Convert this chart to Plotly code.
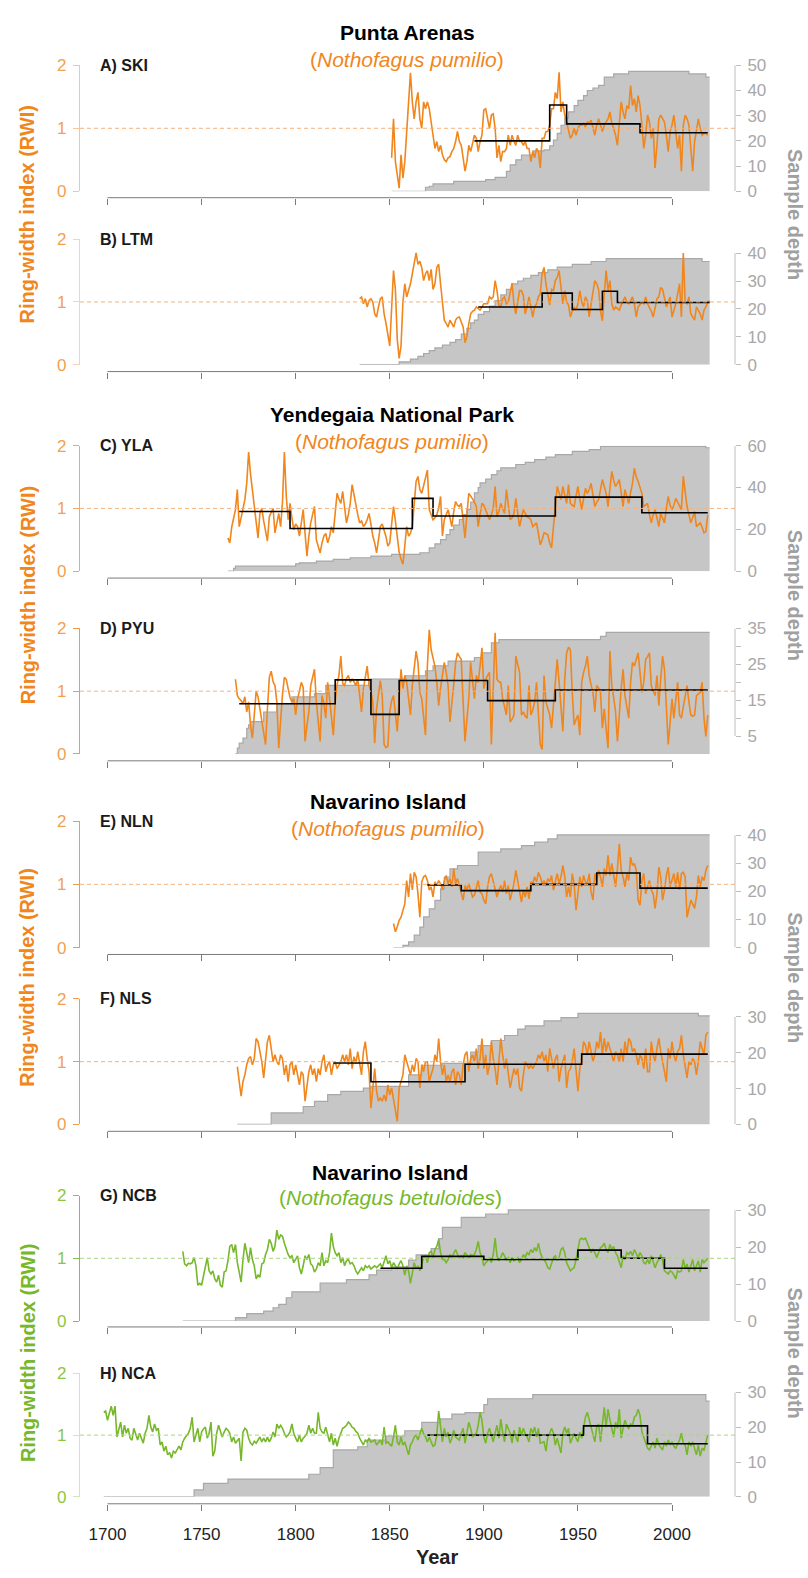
import plotly.graph_objects as go

# ============================ DATA ============================
# Ring-width index series (annual values, first year given by *_start)
rwi_A_start = 1851
rwi_A = [0.53,1.15,0.47,0.21,0.05,0.58,0.21,0.47,1.0,1.52,
         1.88,1.42,1.15,1.42,1.57,1.15,1.0,1.42,1.31,1.42,
         1.31,1.10,0.89,0.68,0.79,0.63,0.73,0.58,0.50,0.47,
         0.53,0.55,0.63,0.68,0.79,0.95,0.79,0.73,0.53,0.32,
         0.47,0.73,0.63,0.79,0.89,0.84,0.63,0.79,0.89,1.29,
         1.31,1.15,1.0,1.21,1.23,1.0,0.53,0.73,0.47,0.63,
         0.63,0.68,0.89,0.73,0.89,0.79,0.73,0.89,0.79,0.79,
         0.73,0.79,0.68,0.68,0.47,0.63,0.53,0.68,0.63,0.37,
         0.84,0.84,0.95,0.95,1.05,1.31,1.31,1.57,1.47,1.89,
         1.26,1.42,1.21,1.10,0.95,0.84,0.89,1.0,0.89,1.0,
         1.05,1.05,1.08,1.02,1.10,1.08,1.13,1.0,0.89,1.05,
         1.15,1.05,0.95,1.05,1.10,1.15,1.26,1.08,1.0,0.89,
         0.73,1.15,1.42,1.26,1.15,1.36,1.31,1.68,1.36,1.47,
         1.26,1.52,1.36,1.05,0.68,0.89,1.21,1.10,0.84,1.0,
         0.37,0.73,1.15,1.21,1.15,1.10,0.89,0.63,0.95,1.05,
         1.21,0.89,0.68,0.89,0.32,1.05,1.21,1.15,1.05,0.68,
         0.32,0.79,1.0,1.15,1.0,0.89,0.92,0.92,0.89]

rwi_B_start = 1834
rwi_B = [1.05,1.08,0.97,1.05,0.92,1.02,1.05,1.0,0.81,0.76,
         0.92,1.05,1.08,0.81,0.66,0.45,0.3,0.9,1.5,1.2,
         0.4,0.1,0.3,1.0,1.29,1.08,1.18,1.29,1.45,1.6,
         1.78,1.6,1.65,1.55,1.34,1.45,1.5,1.34,1.52,1.2,
         1.29,1.55,1.6,1.29,0.97,0.71,0.66,0.60,0.71,0.65,
         0.60,0.71,0.75,0.76,0.68,0.60,0.35,0.45,0.65,0.81,
         0.85,0.87,0.92,0.90,0.87,0.92,0.97,0.97,0.97,1.08,
         1.05,1.08,1.34,1.18,0.95,0.92,1.05,1.08,0.97,1.0,
         1.18,1.3,0.97,0.81,1.0,1.18,1.18,1.1,0.81,0.92,
         1.08,0.9,0.76,0.92,0.97,1.08,1.13,1.45,1.55,1.29,
         1.08,0.95,1.20,1.18,1.34,1.39,1.50,1.2,0.97,1.18,
         1.0,0.95,0.76,0.85,0.92,0.87,0.97,1.18,1.0,0.92,
         1.08,1.02,0.76,0.97,1.13,1.34,1.29,1.2,0.85,0.70,
         1.13,1.50,1.18,1.34,0.97,0.87,0.92,0.90,0.87,0.95,
         1.02,1.08,1.0,0.97,1.02,1.08,0.97,0.76,0.92,0.97,
         1.0,0.97,1.08,0.97,0.92,0.85,0.76,0.92,1.05,1.08,
         1.23,1.20,1.05,0.92,1.0,1.08,0.76,0.85,0.97,1.13,
         1.29,0.76,1.78,1.0,0.97,1.08,0.81,0.76,0.71,0.92,
         0.87,0.81,0.71,0.87,0.92,1.0,1.02]

rwi_C_start = 1764
rwi_C = [0.53,0.45,0.70,0.87,0.98,1.30,0.71,0.85,0.98,1.14,
         1.40,1.90,1.55,1.30,1.05,0.82,0.53,0.92,1.0,0.80,
         0.61,0.48,0.87,0.95,1.0,0.61,0.80,0.92,0.71,1.10,
         1.90,1.20,0.82,1.08,0.85,0.66,0.75,0.71,0.56,0.80,
         0.98,0.60,0.24,0.55,0.77,0.90,1.03,0.50,0.40,0.29,
         0.45,0.56,0.60,0.45,0.55,0.71,0.61,0.95,1.24,1.15,
         1.08,1.27,1.00,0.77,0.90,1.08,1.38,1.20,1.08,0.90,
         0.77,0.80,0.71,0.75,0.82,0.92,0.75,0.56,0.45,0.29,
         0.50,0.71,0.75,0.66,0.55,0.40,0.45,0.75,1.03,0.80,
         0.50,0.30,0.19,0.11,0.40,0.71,0.56,0.60,0.71,1.10,
         1.43,1.51,1.30,1.24,1.35,1.50,1.61,0.98,0.90,0.82,
         0.85,0.90,1.00,1.19,0.56,0.82,0.90,0.98,0.85,0.71,
         0.95,1.11,1.05,1.03,1.08,0.80,0.53,0.90,1.24,1.20,
         1.16,1.10,1.03,0.71,0.90,1.08,1.05,0.98,0.90,0.82,
         0.90,1.0,1.35,0.87,0.95,1.08,1.00,0.92,1.30,1.05,
         0.82,0.85,0.92,1.16,0.95,0.71,0.85,0.98,0.92,0.87,
         0.85,0.82,0.71,0.75,0.77,0.60,0.42,0.50,0.61,0.60,
         0.58,0.45,0.37,0.71,1.00,1.35,1.25,1.14,1.35,1.20,
         1.08,1.38,1.08,1.05,1.03,1.20,1.35,1.15,0.98,1.15,
         1.32,1.24,1.30,1.40,1.20,1.03,1.10,1.14,1.30,1.46,
         1.35,1.24,1.03,1.30,1.59,1.45,1.35,1.40,1.46,1.25,
         1.03,1.30,1.20,1.08,1.25,1.40,1.64,1.50,1.43,1.35,
         1.24,1.03,1.05,1.08,0.90,0.77,0.90,0.98,0.85,0.71,
         0.92,0.85,0.77,1.00,1.19,1.05,0.98,1.05,1.16,1.10,
         1.03,0.98,1.51,1.25,1.03,0.90,0.77,0.85,0.95,0.71,
         0.75,0.77,0.70,0.61,0.63,0.90]

rwi_D_start = 1768
rwi_D = [1.19,0.93,0.88,0.85,0.80,0.91,0.67,0.83,0.46,0.25,
         0.62,1.00,0.91,0.72,0.46,0.30,0.15,0.72,1.22,1.32,
         1.15,1.09,0.83,0.09,0.62,0.95,1.22,1.19,1.04,0.90,
         0.83,0.88,0.62,0.88,1.00,1.14,1.06,0.20,0.45,0.67,
         1.09,1.25,1.35,0.83,0.50,0.20,0.93,0.80,0.57,1.14,
         0.88,0.55,0.30,0.83,1.10,1.25,1.56,1.12,1.09,1.20,
         1.25,1.14,1.19,1.15,1.09,1.19,0.95,0.67,1.04,1.25,
         1.40,1.09,1.00,0.83,0.17,0.72,1.00,1.17,0.93,0.15,
         0.10,0.12,0.67,0.85,0.93,0.62,0.36,0.90,1.35,1.04,
         1.25,1.14,0.90,0.62,1.09,1.40,1.64,1.46,0.98,0.88,
         0.60,0.30,1.40,1.98,1.66,1.55,1.40,1.14,0.77,1.05,
         1.30,1.46,1.30,1.09,0.51,0.77,1.10,1.46,1.61,1.55,
         1.51,0.83,0.20,0.55,0.88,1.46,1.15,0.88,1.25,1.14,
         1.40,1.69,1.04,1.19,1.25,1.30,0.15,1.14,1.93,1.19,
         1.15,1.14,0.88,0.75,0.62,1.09,0.51,0.55,0.62,1.56,
         1.45,1.30,0.62,0.67,0.60,0.57,1.09,0.62,0.70,0.83,
         1.14,0.60,0.15,0.07,1.25,0.83,0.70,0.62,0.41,0.83,
         1.20,1.51,1.14,0.70,0.36,1.19,1.61,1.70,1.66,0.98,
         0.46,0.55,0.62,0.30,1.14,1.30,1.40,1.56,1.25,1.10,
         0.98,0.67,1.09,1.05,0.98,0.41,0.72,0.40,0.09,1.64,
         1.09,0.90,0.67,0.20,0.72,1.05,1.35,0.93,0.75,0.57,
         1.14,1.46,1.40,1.51,1.61,1.30,0.98,1.14,1.51,1.55,
         1.61,1.09,1.00,0.93,1.25,0.77,1.20,1.56,1.35,0.83,
         0.15,0.50,0.88,0.57,0.85,1.14,0.62,0.57,0.75,0.93,
         1.09,0.83,0.62,0.60,0.62,0.93,0.95,0.98,1.14,0.57,
         0.28,0.62]

rwi_E_start = 1852
rwi_E = [0.38,0.25,0.33,0.43,0.48,0.59,0.69,1.06,0.80,
         1.17,0.91,1.19,1.12,0.85,0.48,1.04,1.12,1.14,
         1.06,0.91,0.96,0.80,1.04,0.98,1.06,1.01,0.91,
         1.06,1.14,1.01,1.09,0.96,1.25,1.01,1.09,0.98,
         0.88,0.75,0.98,0.91,1.01,0.88,0.80,0.83,0.96,
         1.06,0.88,0.85,0.75,0.69,0.96,1.12,1.17,1.06,
         0.91,0.80,0.91,0.98,0.88,1.06,0.85,0.98,0.75,
         0.88,1.01,1.22,1.04,0.88,0.72,0.91,0.80,0.96,
         0.77,1.04,1.01,1.12,1.04,1.19,1.12,1.01,1.06,
         0.98,1.09,1.04,1.14,0.91,1.06,1.17,1.01,1.12,
         1.30,1.12,0.80,0.96,0.80,1.17,1.01,0.59,0.85,
         1.12,0.96,1.14,1.04,1.01,1.17,0.88,0.75,1.17,
         1.04,1.22,1.12,0.96,1.25,1.14,1.46,1.14,1.33,
         1.12,0.96,1.25,1.64,1.22,1.12,0.96,1.17,1.06,
         1.43,1.30,1.33,1.22,0.75,0.67,1.06,1.17,0.85,
         0.96,1.06,0.91,0.85,0.62,0.85,1.27,1.12,0.75,
         0.91,1.14,1.27,0.96,1.06,1.17,0.96,1.19,0.91,
         1.17,1.19,1.12,0.48,0.64,0.75,0.69,0.62,0.80,1.14,
         0.96,1.12,1.06,1.22,1.30]

rwi_F_start = 1769
rwi_F = [0.92,0.63,0.45,0.68,0.79,0.95,1.05,1.08,0.95,
         1.05,1.37,1.32,1.16,1.0,0.74,1.0,1.32,1.42,
         1.21,1.0,1.11,1.0,0.95,1.11,1.05,0.79,0.95,
         0.68,0.95,1.0,0.79,0.95,0.79,0.63,0.84,0.79,
         0.37,0.58,0.84,0.95,0.79,0.89,0.68,0.89,0.79,
         1.0,1.11,0.84,0.95,1.0,0.79,0.95,1.0,0.89,
         0.95,1.0,1.11,1.0,1.11,0.95,1.21,0.89,1.08,
         0.97,1.16,1.0,0.79,1.16,1.32,1.05,0.84,0.26,
         0.63,0.89,0.53,0.37,0.42,0.37,0.47,0.37,0.63,
         0.47,0.58,0.42,0.26,0.05,0.58,0.68,0.79,1.11,
         1.0,0.89,0.79,0.95,0.84,1.05,1.0,0.58,0.95,
         0.84,1.0,1.0,0.68,0.79,0.89,1.11,1.0,1.37,
         1.0,0.79,0.95,0.68,0.79,0.68,0.84,0.89,0.63,
         0.84,0.79,0.63,0.95,1.11,1.16,0.84,1.05,1.11,
         1.0,1.21,0.89,1.05,1.37,0.89,1.11,0.79,0.95,
         1.32,1.05,0.89,0.63,1.0,1.37,1.11,0.89,1.05,
         0.79,0.58,0.74,0.89,0.79,0.89,0.58,0.53,0.79,
         1.0,0.95,0.89,0.95,0.89,0.95,1.0,1.11,1.05,
         1.16,1.0,1.11,0.84,1.21,1.05,0.89,1.05,1.11,
         0.68,0.89,1.0,1.11,0.58,0.84,0.89,1.0,1.21,
         0.84,0.53,0.89,1.05,1.32,1.26,1.11,1.32,1.16,
         1.0,1.11,1.32,1.21,1.47,1.11,1.37,1.16,1.32,
         1.21,1.11,1.0,1.16,1.11,1.0,1.21,1.0,1.32,
         1.11,1.37,1.32,1.16,1.21,1.11,0.95,1.11,1.05,
         0.89,1.21,0.84,0.84,1.32,1.11,1.0,1.21,1.37,
         1.16,1.0,0.84,0.68,1.21,1.05,1.32,1.11,1.0,
         1.16,1.21,1.42,1.11,0.89,0.74,1.0,0.95,1.05,1.0,
         0.79,1.0,1.32,1.21,1.11,1.42,1.47]

rwi_G_start = 1740
rwi_G = [1.11,0.91,0.88,0.92,0.91,0.93,1.01,0.88,0.57,0.60,
         0.57,0.73,0.88,1.01,0.80,0.75,0.80,0.67,0.62,0.73,
         0.57,0.54,0.78,0.80,0.96,1.19,1.22,1.09,1.22,0.93,
         0.78,0.62,0.98,1.24,1.09,0.93,1.17,0.98,0.88,0.67,
         0.73,0.70,0.91,0.93,1.06,1.14,1.30,1.24,1.11,1.19,
         1.45,1.30,1.37,1.35,1.24,1.14,1.06,1.01,1.04,0.93,
         0.98,1.04,0.85,0.75,0.88,1.04,0.98,1.06,0.91,0.88,
         0.78,0.83,0.93,0.88,1.09,0.88,0.96,0.93,1.09,1.40,
         1.19,1.09,1.04,1.09,0.93,1.01,0.88,0.96,0.98,0.91,
         0.93,0.88,0.80,0.75,0.80,0.85,0.80,0.88,0.85,0.88,
         0.83,0.85,0.88,0.85,0.88,0.91,0.85,0.93,1.04,0.91,
         0.96,0.85,0.93,0.88,0.83,0.91,0.96,0.88,0.73,0.88,
         0.80,0.60,0.78,0.93,0.83,0.88,0.80,0.93,1.01,1.04,
         0.93,1.09,1.11,1.01,1.14,1.19,1.30,1.09,0.98,0.98,
         0.93,0.98,1.06,1.01,1.09,1.14,1.06,1.01,1.04,1.01,
         1.09,1.04,1.01,1.06,1.04,1.06,1.14,1.27,1.09,1.01,
         0.88,0.93,0.96,1.01,0.93,1.06,1.32,1.04,0.96,1.01,
         1.09,1.04,0.98,1.01,0.93,1.01,0.96,0.98,1.01,0.93,
         0.98,1.06,1.01,1.09,1.06,1.14,1.09,1.17,1.11,1.24,
         1.09,1.01,0.98,0.93,0.85,0.83,0.93,1.01,1.04,0.98,
         1.01,1.14,1.17,1.09,0.93,0.85,0.80,0.83,0.85,0.98,
         1.14,1.30,1.32,1.30,1.32,1.24,1.14,1.09,1.14,1.09,
         1.01,1.11,1.17,1.19,1.24,1.14,1.09,1.22,1.14,1.19,
         1.09,1.04,0.96,0.85,1.04,0.98,1.09,1.06,1.11,1.04,
         1.14,1.06,1.01,1.09,1.04,0.93,0.91,0.98,0.91,1.04,
         0.96,0.85,0.93,0.98,1.06,0.96,0.80,0.78,0.75,0.80,
         0.78,0.73,0.67,0.80,0.78,0.80,0.98,0.83,0.91,0.78,
         0.88,0.98,0.80,0.88,0.96,0.78,0.98,0.93,0.97,1.0]

rwi_H_start = 1698
rwi_H = [1.37,1.39,1.24,1.37,1.47,1.32,1.47,0.97,1.10,
         1.21,0.97,1.16,1.03,1.11,0.95,0.92,1.11,1.00,
         0.92,1.03,0.95,0.87,1.03,1.11,1.32,1.13,1.05,
         1.18,1.08,1.11,0.84,0.89,0.74,0.82,0.68,0.72,
         0.63,0.74,0.71,0.76,0.82,0.76,0.89,0.95,1.00,
         1.03,1.11,1.29,0.89,1.0,1.11,0.89,1.05,1.10,
         1.13,0.95,1.03,1.21,0.66,0.74,1.03,1.16,1.05,
         0.97,1.05,1.11,1.08,1.03,0.89,0.97,0.87,0.92,
         0.95,0.58,1.05,1.11,1.08,0.95,0.87,0.84,0.90,
         0.87,0.92,0.97,0.89,0.95,0.89,0.97,0.89,0.95,
         1.05,0.97,1.18,1.11,1.16,1.11,1.03,0.97,1.00,
         1.05,1.18,1.03,0.95,0.89,1.0,0.89,0.95,0.98,
         1.03,1.16,1.03,1.11,1.03,1.03,1.37,1.11,1.05,
         1.03,1.13,1.0,0.89,1.03,0.84,0.95,0.82,0.95,
         1.03,1.11,1.13,1.16,1.21,1.18,1.13,1.11,1.06,
         1.03,0.95,0.89,0.84,0.92,0.89,0.95,0.89,0.90,
         0.92,0.84,0.89,0.92,0.84,1.13,0.87,0.89,0.85,
         0.82,0.97,1.16,0.89,0.84,0.97,0.84,0.89,0.78,
         0.68,0.84,0.89,0.97,1.0,0.92,1.0,1.11,1.02,
         0.97,0.89,0.97,0.89,0.82,0.84,1.0,1.39,1.10,
         0.89,1.11,0.97,1.05,0.87,0.95,1.08,0.97,0.95,
         0.92,1.03,1.11,0.87,1.03,1.21,1.11,0.97,1.00,
         1.03,1.16,1.37,1.24,0.97,0.87,1.03,1.11,0.98,
         0.89,1.03,1.16,0.95,1.26,1.05,0.89,1.18,1.10,
         1.03,0.87,1.08,0.97,0.89,1.13,1.0,1.11,1.02,
         0.97,0.89,1.11,1.03,1.13,0.97,1.11,0.87,0.88,
         0.89,0.74,0.97,1.03,1.11,1.03,0.84,0.95,0.80,
         0.71,1.03,1.13,1.03,1.11,0.87,0.95,1.03,0.95,
         0.89,1.05,0.95,1.11,1.29,1.37,1.24,1.16,1.00,
         0.89,1.13,1.18,0.89,1.18,1.45,1.13,1.42,1.25,
         1.11,0.97,1.21,1.11,1.42,0.95,1.11,1.24,1.15,
         1.11,1.18,1.16,1.29,1.32,1.42,1.32,1.05,0.95,
         0.89,0.79,0.76,0.84,0.89,0.79,0.95,0.84,0.80,
         0.76,0.89,0.82,0.92,0.84,0.89,0.82,0.79,0.85,
         0.92,1.03,0.87,0.84,0.68,0.89,0.82,0.89,0.78,
         0.68,0.84,0.66,0.79,0.75,0.88,1.0]

# Sample depth (number of series) - change years and values (step function)
depth_A_years = [1851,1869,1871,1873,1884,1901,1906,1912,1914,1917,1920,1926,1932,1935,1937,1939,1941,1943,1945,1948,1950,1953,1955,1958,1961,1964,1969,1977,2009,2018,2020]
depth_A =       [0,   1.6, 2.0, 2.9, 3.9, 4.6, 5.5, 7.9, 10.5,12.5,14.4,16,  16.4,18,  20.3,23,  26.2,29,  31.5,34,  36.1,38,  40,  41,  42,  45.3,46.6,47.6,46.6,45.3,45.3]
depth_B_years = [1834,1855,1861,1865,1868,1871,1874,1878,1882,1885,1888,1891,1893,1895,1897,1900,1903,1906,1909,1912,1915,1918,1921,1925,1929,1934,1939,1947,1957,1965,2016,2020]
depth_B =       [0,   1,   2,   3,   4,   5,   6,   7,   8,   9,   11,  13,  15,  16,  18,  19,  21,  23,  25,  27,  29,  30,  31,  32,  33,  34,  35,  36,  37,  38,  37,  37]
depth_C_years = [1764,1767,1768,1800,1802,1811,1820,1829,1840,1851,1866,1871,1874,1877,1880,1882,1884,1887,1889,1891,1893,1895,1897,1898,1901,1904,1907,1909,1917,1922,1927,1933,1938,1947,1956,1962,2018,2020]
depth_C =       [0,   1.3, 2.4, 3.5, 4,   4.8, 5.6, 6.4, 7.2, 8,   8.8, 11.1,13,  15.1,17.5,19.9,22,  24.7,27,  29.5,33,  37.4,40,  42.2,44,  46.2,48,  49.4,51,  52,  53.3,54.5,55.7,57.3,58.1,59.7,59,  59]
depth_D_years = [1768,1769,1770,1772,1774,1775,1776,1783,1790,1798,1810,1816,1839,1858,1869,1873,1881,1895,1899,1904,1908,1962,1965,2020]
depth_D =       [0,   1.6, 3,   4.4, 7.1, 8.1, 9,   11.7,14,  15.9,16.8,19.1,20.9,21.8,23.2,24.6,25.9,26.9,28.2,31,  31.9,32.8,33.9,33.9]
depth_E_years = [1852,1857,1860,1863,1866,1868,1871,1874,1877,1879,1882,1886,1897,1909,1920,1927,1934,1939,2020]
depth_E =       [0,   0.8, 2,   4.4, 7.3, 10.9,13.8,16.8,20.9,25.1,28,  29.2,34,  35.1,36.3,37.5,38.7,40.1,40.1]
depth_F_years = [1769,1787,1804,1810,1817,1824,1836,1840,1860,1867,1878,1893,1897,1904,1911,1918,1922,1932,1941,1950,2014,2020]
depth_F =       [0,   3.2, 5,   6.4, 8.3, 9.2, 10.1,10.6,13.8,16.5,17,  20.2,22,  23.4,24.8,26.6,27.5,28.9,29.8,31,  30.3,30.3]
depth_G_years = [1740,1768,1774,1783,1788,1791,1795,1798,1813,1827,1839,1843,1851,1860,1864,1872,1876,1878,1888,1901,1913,2020]
depth_G =       [0,   0.9, 2,   2.7, 3.6, 4.5, 6.3, 7.9, 10.3,11.2,12.5,13.8,14.7,16.5,17.9,19.6,22.3,25.4,28.1,29,  30.1,30.1]
depth_H_years = [1698,1746,1751,1764,1807,1813,1820,1833,1838,1848,1858,1867,1877,1883,1890,1900,1902,1926,2018,2020]
depth_H =       [0,   2,   3.9, 5.1, 6.5, 8.4, 13.5,14.4,16.3,17.5,19,  21.4,22.4,23.8,24.2,26.5,28.2,29.4,27.5,27.5]

# Regime means (segment boundaries incl. final year, and segment values)
regime_A_years = [1895, 1935, 1944, 1983, 2019]
regime_A = [0.80, 1.37, 1.07, 0.93]
regime_B_years = [1897, 1931, 1947, 1963, 1971, 2020]
regime_B = [0.92, 1.14, 0.88, 1.17, 0.99]
regime_C_years = [1770, 1797, 1862, 1873, 1938, 1984, 2019]
regime_C = [0.95, 0.68, 1.16, 0.88, 1.18, 0.93]
regime_D_years = [1770, 1821, 1840, 1855, 1902, 1938, 2019]
regime_D = [0.80, 1.18, 0.63, 1.17, 0.85, 1.02]
regime_E_years = [1870, 1888, 1925, 1960, 1983, 2019]
regime_E = [0.99, 0.90, 1.00, 1.18, 0.94]
regime_F_years = [1820, 1840, 1890, 1952, 2019]
regime_F = [0.98, 0.68, 0.96, 1.12]
regime_G_years = [1845, 1867, 1900, 1950, 1973, 1996, 2019]
regime_G = [0.84, 1.03, 0.98, 1.13, 1.00, 0.84]
regime_H_years = [1870, 1953, 1987, 2019]
regime_H = [1.00, 1.15, 0.86]

# Axis ticks / labels
panel_labels = ["A) SKI", "B) LTM", "C) YLA", "D) PYU", "E) NLN", "F) NLS", "G) NCB", "H) NCA"]
year_ticks = [1700, 1750, 1800, 1850, 1900, 1950, 2000]
rwi_ticks = [0, 1, 2]
depth_ticks = {
    "A": [0, 10, 20, 30, 40, 50],
    "B": [0, 10, 20, 30, 40],
    "C": [0, 20, 40, 60],
    "D": [5, 10, 15, 20, 25, 30, 35],
    "E": [0, 10, 20, 30, 40],
    "F": [0, 10, 20, 30],
    "G": [0, 10, 20, 30],
    "H": [0, 10, 20, 30],
}
depth_ticktext = {"D": ["5", "", "15", "", "25", "", "35"]}
depth_max = {"A": 50, "B": 45, "C": 60, "D": 35, "E": 45, "F": 35, "G": 34, "H": 35.5}
site_titles = ["Punta Arenas", "Yendegaia National Park", "Navarino Island", "Navarino Island"]
species = ["Nothofagus pumilio", "Nothofagus pumilio", "Nothofagus pumilio", "Nothofagus betuloides"]

# ============================ STYLE / LAYOUT ============================
W, H = 808, 1578
FONT = "Liberation Sans, Arial, sans-serif"
ORANGE = "#F0861C"
GREEN = "#76B82A"
FILL = "#C6C6C6"
FILL_LINE = "#A8A8A8"
XGREY = "#7A7A7A"
RGREY = "#BDBDBD"
RLABEL = "#A8A8A8"

def fx(p):
    return p / W

def fy(p):
    return 1 - p / H

X_LEFT, X_RIGHT = 80.0, 735.0
PX1700, PX2000 = 107.5, 672.0
ppy = (PX2000 - PX1700) / 300.0
XRANGE = [1700 - (PX1700 - X_LEFT) / ppy, 2000 + (X_RIGHT - PX2000) / ppy]

keys = ["A", "B", "C", "D", "E", "F", "G", "H"]
series = {
    "A": (rwi_A_start, rwi_A, depth_A_years, depth_A, regime_A_years, regime_A),
    "B": (rwi_B_start, rwi_B, depth_B_years, depth_B, regime_B_years, regime_B),
    "C": (rwi_C_start, rwi_C, depth_C_years, depth_C, regime_C_years, regime_C),
    "D": (rwi_D_start, rwi_D, depth_D_years, depth_D, regime_D_years, regime_D),
    "E": (rwi_E_start, rwi_E, depth_E_years, depth_E, regime_E_years, regime_E),
    "F": (rwi_F_start, rwi_F, depth_F_years, depth_F, regime_F_years, regime_F),
    "G": (rwi_G_start, rwi_G, depth_G_years, depth_G, regime_G_years, regime_G),
    "H": (rwi_H_start, rwi_H, depth_H_years, depth_H, regime_H_years, regime_H),
}
# pixel geometry of each panel: (top of RWI=2, bottom RWI=0, x-axis line)
geom = [(57, 184.5, 191), (233, 360, 367), (442, 569, 576), (627, 754, 761),
        (822, 950, 957), (1002, 1129, 1136), (1201, 1328, 1334), (1381, 1506, 1513)]
line_col = [ORANGE] * 6 + [GREEN] * 2
laxis_col = ["#F7C597", "#F9D3AE", "#F4A866", "#F19A4A", "#F19A4A", "#F19A4A", "#86C04A", "#CFE6B8"]
lab_col = ["#F3A04F"] * 6 + ["#8CC63F"] * 2
dash_col = ["#F6B27A"] * 6 + ["#A9D47E"] * 2

fig = go.Figure()
layout = dict(
    width=W, height=H, autosize=False,
    margin=dict(l=0, r=0, t=0, b=0, pad=0),
    paper_bgcolor="white", plot_bgcolor="white",
    showlegend=False, font=dict(family=FONT),
)
shapes = []
annotations = []

for i, k in enumerate(keys):
    n = i + 1
    top, bot, axy = geom[i]
    xname = "x" if n == 1 else f"x{n}"
    xkey = "xaxis" if n == 1 else f"xaxis{n}"
    yd = 2 * n - 1
    yr = 2 * n
    ydname = "y" if yd == 1 else f"y{yd}"
    ydkey = "yaxis" if yd == 1 else f"yaxis{yd}"
    yrname = f"y{yr}"
    yrkey = f"yaxis{yr}"

    start, rwi, dyears, dvals, ryears, rvals = series[k]
    years = list(range(start, start + len(rwi)))

    # sample depth (grey area) on the right axis
    fig.add_trace(go.Scatter(x=dyears, y=dvals, mode="lines", line=dict(shape="hv", color=FILL_LINE, width=1.2),
                             fill="tozeroy", fillcolor=FILL, xaxis=xname, yaxis=ydname, hoverinfo="skip"))
    # ring-width index
    fig.add_trace(go.Scatter(x=years, y=rwi, mode="lines", line=dict(color=line_col[i], width=1.6),
                             xaxis=xname, yaxis=yrname))
    # regime means
    fig.add_trace(go.Scatter(x=ryears, y=rvals + [rvals[-1]], mode="lines",
                             line=dict(shape="hv", color="black", width=1.6), xaxis=xname, yaxis=yrname))

    layout[xkey] = dict(domain=[fx(X_LEFT), fx(X_RIGHT)], range=XRANGE, anchor="free", position=fy(axy),
                        showline=False, showgrid=False, zeroline=False, ticks="outside", ticklen=6,
                        tickwidth=1, tickcolor=XGREY, tickvals=year_ticks,
                        showticklabels=(n == 8), tickfont=dict(size=17, color="#222222", family=FONT),
                        ticklabelstandoff=9)
    dt = depth_ticks[k]
    layout[ydkey] = dict(domain=[fy(bot), fy(top)], range=[0, depth_max[k]], anchor=xname, side="right",
                         showline=False, showgrid=False, zeroline=False, ticks="outside", ticklen=5,
                         tickwidth=1, tickcolor=RGREY, tickvals=dt,
                         ticktext=depth_ticktext.get(k, [str(v) for v in dt]),
                         tickfont=dict(size=17, color=RLABEL, family=FONT), ticklabelstandoff=3)
    layout[yrkey] = dict(range=[0, 2], anchor=xname, overlaying=ydname, side="left",
                         showline=True, linecolor=laxis_col[i], linewidth=1.2, showgrid=False, zeroline=False,
                         ticks="outside", ticklen=6, tickwidth=1, tickcolor=laxis_col[i], tickvals=rwi_ticks,
                         tickfont=dict(size=17, color=lab_col[i], family=FONT), ticklabelstandoff=3)

    # x axis line spanning first..last tick
    shapes.append(dict(type="line", xref=xname, x0=year_ticks[0], x1=year_ticks[-1], yref="paper",
                       y0=fy(axy), y1=fy(axy), line=dict(color=XGREY, width=1)))
    # right axis line spanning first..last tick
    shapes.append(dict(type="line", xref="paper", x0=fx(X_RIGHT), x1=fx(X_RIGHT), yref=ydname,
                       y0=dt[0], y1=dt[-1], line=dict(color=RGREY, width=1)))
    # reference line at RWI = 1
    shapes.append(dict(type="line", xref="paper", x0=fx(X_LEFT), x1=fx(X_RIGHT), yref=yrname,
                       y0=1, y1=1, layer="above", line=dict(color=dash_col[i], width=1, dash="4px,3px")))
    # panel label
    annotations.append(dict(text=f"<b>{panel_labels[i]}</b>", xref="paper", yref="paper", x=fx(98), y=fy(top),
                            xanchor="left", yanchor="middle", showarrow=False,
                            font=dict(size=16, color="#1A1A1A", family=FONT)))

# site titles and species
title_pos = [(407, 23.5, 51), (392, 410, 437.5), (388, 802, 829), (390, 1177.5, 1203)]
group_mid = [207.5, 593, 980, 1360]
group_col = [ORANGE, ORANGE, ORANGE, GREEN]
for g in range(4):
    cx, ty, sy = title_pos[g]
    annotations.append(dict(text=f"<b>{site_titles[g]}</b>", xref="paper", yref="paper", x=fx(cx), y=fy(ty),
                            xanchor="center", yanchor="middle", showarrow=False,
                            font=dict(size=21, color="black", family=FONT)))
    annotations.append(dict(text=f"(<i>{species[g]}</i>)", xref="paper", yref="paper", x=fx(cx), y=fy(sy),
                            xanchor="center", yanchor="middle", showarrow=False,
                            font=dict(size=21, color=group_col[g], family=FONT)))
    annotations.append(dict(text="<b>Ring-width index (RWI)</b>", xref="paper", yref="paper", x=fx(27.5),
                            y=fy(group_mid[g]), xanchor="center", yanchor="middle", textangle=-90,
                            showarrow=False, font=dict(size=20, color=group_col[g], family=FONT)))
    annotations.append(dict(text="<b>Sample depth</b>", xref="paper", yref="paper", x=fx(795),
                            y=fy(group_mid[g]), xanchor="center", yanchor="middle", textangle=90,
                            showarrow=False, font=dict(size=20, color="#A0A0A0", family=FONT)))

annotations.append(dict(text="<b>Year</b>", xref="paper", yref="paper", x=fx(437), y=fy(1567),
                        xanchor="center", yanchor="middle", showarrow=False,
                        font=dict(size=20, color="#222222", family=FONT)))

layout["shapes"] = shapes
layout["annotations"] = annotations
fig.update_layout(**layout)
fig.write_html("out.html")
